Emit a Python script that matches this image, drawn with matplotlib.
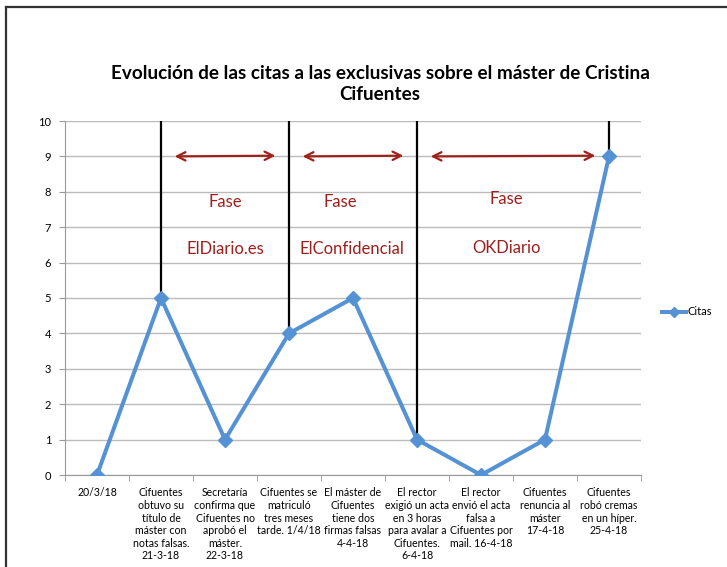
import matplotlib
matplotlib.use("Agg")
import matplotlib.pyplot as plt
from matplotlib.lines import Line2D

plt.rcParams['font.family'] = ['Lato', 'DejaVu Sans']

labels = [
    "20/3/18",
    "Cifuentes\nobtuvo su\ntítulo de\nmáster con\nnotas falsas.\n21-3-18",
    "Secretaría\nconfirma que\nCifuentes no\naprobó el\nmáster.\n22-3-18",
    "Cifuentes se\nmatriculó\ntres meses\ntarde. 1/4/18",
    "El máster de\nCifuentes\ntiene dos\nfirmas falsas\n4-4-18",
    "El rector\nexigió un acta\nen 3 horas\npara avalar a\nCifuentes.\n6-4-18",
    "El rector\nenvió el acta\nfalsa a\nCifuentes por\nmail. 16-4-18",
    "Cifuentes\nrenuncia al\nmáster\n17-4-18",
    "Cifuentes\nrobó cremas\nen un híper.\n25-4-18",
]
citas = [0, 5, 1, 4, 5, 1, 0, 1, 9]

# phase boundaries (category index) and phase names
limites = [1, 3, 5, 8]
fases = ["ElDiario.es", "ElConfidencial", "OKDiario"]

blue = "#5592D3"
red = "#9E1F1C"

fig = plt.figure(figsize=(7.27, 5.67), dpi=100)
ax = fig.add_axes([65 / 727, 92 / 567, 576 / 727, 354 / 567])

x = list(range(len(citas)))
ax.plot(x, citas, color=blue, lw=2.9, marker="D", ms=7,
        markerfacecolor=blue, markeredgecolor=blue, zorder=4)

# black vertical separators
for i in limites:
    ax.vlines(i, citas[i], 10, color="black", lw=1.6, zorder=3)

# phase arrows
for k in range(3):
    a, b = limites[k], limites[k + 1]
    ax.annotate("", xy=(b - 0.17, 9.02), xytext=(a + 0.17, 9.0),
                arrowprops=dict(arrowstyle="<->", color=red, lw=1.6,
                                mutation_scale=15))

ax.text(2.0, 7.71, "Fase", color=red, fontsize=12, ha="center", va="center")
ax.text(2.0, 6.38, fases[0], color=red, fontsize=12, ha="center", va="center")
ax.text(3.8, 7.72, "Fase", color=red, fontsize=12, ha="center", va="center")
ax.text(3.98, 6.38, fases[1], color=red, fontsize=12, ha="center", va="center")
ax.text(6.4, 7.8, "Fase", color=red, fontsize=12, ha="center", va="center")
ax.text(6.4, 6.41, fases[2], color=red, fontsize=12, ha="center", va="center")

ax.set_xlim(-0.5, len(citas) - 0.5)
ax.set_ylim(0, 10)
ax.set_yticks(range(0, 11))
ax.tick_params(axis="y", labelsize=8, length=4, color="#999999", pad=6)
ax.set_xticks(x)
ax.set_xticklabels(labels, fontsize=7.6, linespacing=1.17)
ax.tick_params(axis="x", length=0, pad=9)
ax.set_xticks([i - 0.5 for i in range(len(citas) + 1)], minor=True)
ax.tick_params(axis="x", which="minor", length=4, color="#999999")
ax.grid(axis="y", color="#bbbbbb", lw=1)
ax.set_axisbelow(True)
for s in ["top", "right"]:
    ax.spines[s].set_visible(False)
for s in ["left", "bottom"]:
    ax.spines[s].set_color("#999999")

fig.text(380 / 727, 1 - 84 / 567,
         "Evolución de las citas a las exclusivas sobre el máster de Cristina\nCifuentes",
         ha="center", va="center", fontsize=13.6, fontweight="bold", linespacing=1.3)

handle = Line2D([], [], color=blue, lw=2.9, marker="D", ms=5)
fig.legend([handle], ["Citas"], loc="center left", bbox_to_anchor=(652 / 727, 1 - 312 / 567),
           frameon=False, fontsize=8, handlelength=2.2, handletextpad=0.1)

# outer frame (top and left edges)
fig.add_artist(Line2D([6 / 727, 6 / 727], [0, 1 - 7 / 567], transform=fig.transFigure,
                      color="#333333", lw=1.6))
fig.add_artist(Line2D([6 / 727, 1], [1 - 7 / 567, 1 - 7 / 567], transform=fig.transFigure,
                      color="#333333", lw=1.6))

fig.savefig("out.png", dpi=100)
